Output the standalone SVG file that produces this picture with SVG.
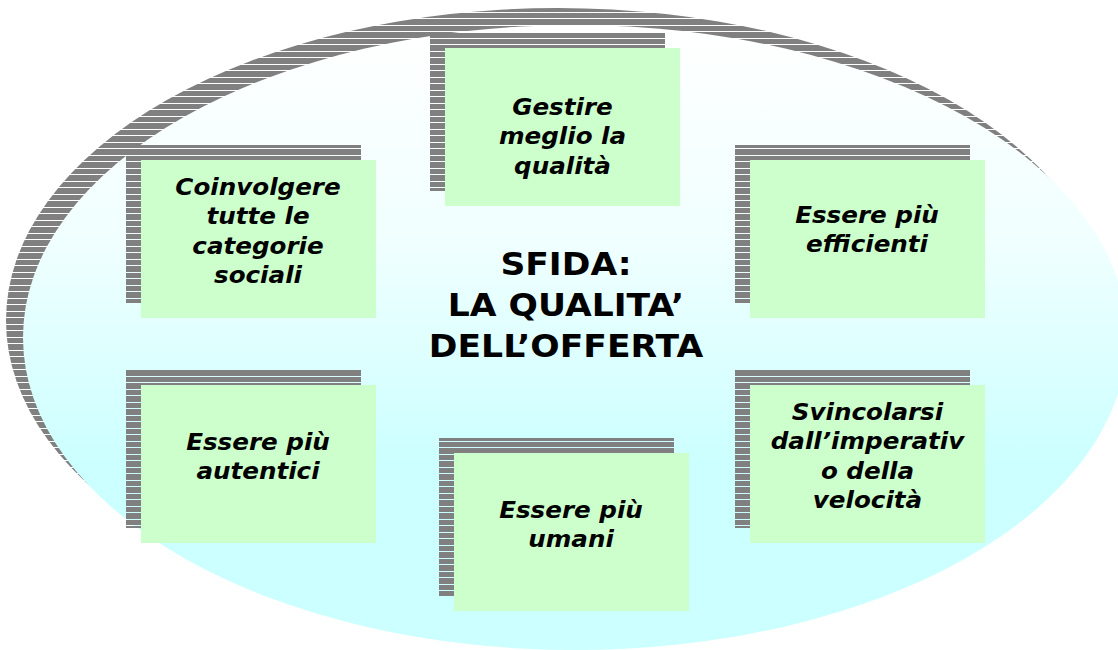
<svg xmlns="http://www.w3.org/2000/svg" width="1118" height="650" viewBox="0 0 1118 650">
  <style>
    .shadow { fill: url(#stripes); }
    .box { fill: #ccffcc; }
    .lbl { font-family: "DejaVu Sans", Verdana, sans-serif; font-weight: bold; font-style: italic; font-size: 23px; text-anchor: middle; fill: #000; }
    .title { font-family: "DejaVu Sans", Verdana, sans-serif; font-weight: bold; font-size: 32px; text-anchor: middle; fill: #000; }
  </style>
  <defs>
    <pattern id="stripes" patternUnits="userSpaceOnUse" width="10" height="13">
      <rect x="0" y="0" width="10" height="5" fill="#808080"/>
      <rect x="0" y="6" width="10" height="6" fill="#808080"/>
    </pattern>
    <linearGradient id="bg" x1="0" y1="0" x2="0" y2="1">
      <stop offset="0" stop-color="#ffffff"/>
      <stop offset="0.35" stop-color="#f0ffff"/>
      <stop offset="0.7" stop-color="#ccffff"/>
      <stop offset="1" stop-color="#ccffff"/>
    </linearGradient>
  </defs>
  <rect x="0" y="0" width="1118" height="650" fill="#ffffff"/>

  <g id="background">
    <ellipse class="shadow" cx="558" cy="320.5" rx="552" ry="312.5"/>
    <ellipse cx="575" cy="337.5" rx="552" ry="312.5" fill="url(#bg)"/>
  </g>

  <g id="connectors"></g>

  <g id="title">
    <text class="title" transform="translate(566 0) scale(1.08 1)"><tspan x="0" y="275">SFIDA:</tspan><tspan x="0" y="316">LA QUALITA’</tspan><tspan x="0" y="357">DELL’OFFERTA</tspan></text>
  </g>

  <g id="node-gestire">
    <rect class="shadow" x="430" y="33" width="235" height="158"/>
    <rect class="box" x="445" y="48" width="235" height="158"/>
    <text class="lbl" transform="translate(562.5 0) scale(1.07 1)"><tspan x="0" y="115">Gestire</tspan><tspan x="0" y="144.5">meglio la</tspan><tspan x="0" y="174">qualità</tspan></text>
  </g>

  <g id="node-coinvolgere">
    <rect class="shadow" x="126" y="145" width="235" height="158"/>
    <rect class="box" x="141" y="160" width="235" height="158"/>
    <text class="lbl" transform="translate(258 0) scale(1.07 1)"><tspan x="0" y="195">Coinvolgere</tspan><tspan x="0" y="224.5">tutte le</tspan><tspan x="0" y="254">categorie</tspan><tspan x="0" y="283.5">sociali</tspan></text>
  </g>

  <g id="node-efficienti">
    <rect class="shadow" x="735" y="145" width="235" height="158"/>
    <rect class="box" x="750" y="160" width="235" height="158"/>
    <text class="lbl" transform="translate(867 0) scale(1.07 1)"><tspan x="0" y="223">Essere più</tspan><tspan x="0" y="252.5">efficienti</tspan></text>
  </g>

  <g id="node-autentici">
    <rect class="shadow" x="126" y="370" width="235" height="158"/>
    <rect class="box" x="141" y="385" width="235" height="158"/>
    <text class="lbl" transform="translate(258 0) scale(1.07 1)"><tspan x="0" y="450">Essere più</tspan><tspan x="0" y="479.5">autentici</tspan></text>
  </g>

  <g id="node-umani">
    <rect class="shadow" x="439" y="438" width="235" height="158"/>
    <rect class="box" x="454" y="453" width="235" height="158"/>
    <text class="lbl" transform="translate(571 0) scale(1.07 1)"><tspan x="0" y="518">Essere più</tspan><tspan x="0" y="547.5">umani</tspan></text>
  </g>

  <g id="node-svincolarsi">
    <rect class="shadow" x="735" y="370" width="235" height="158"/>
    <rect class="box" x="750" y="385" width="235" height="158"/>
    <text class="lbl" transform="translate(867.5 0) scale(1.07 1)"><tspan x="0" y="420">Svincolarsi</tspan><tspan x="0" y="449.5">dall’imperativ</tspan><tspan x="0" y="479">o della</tspan><tspan x="0" y="508.5">velocità</tspan></text>
  </g>
</svg>
